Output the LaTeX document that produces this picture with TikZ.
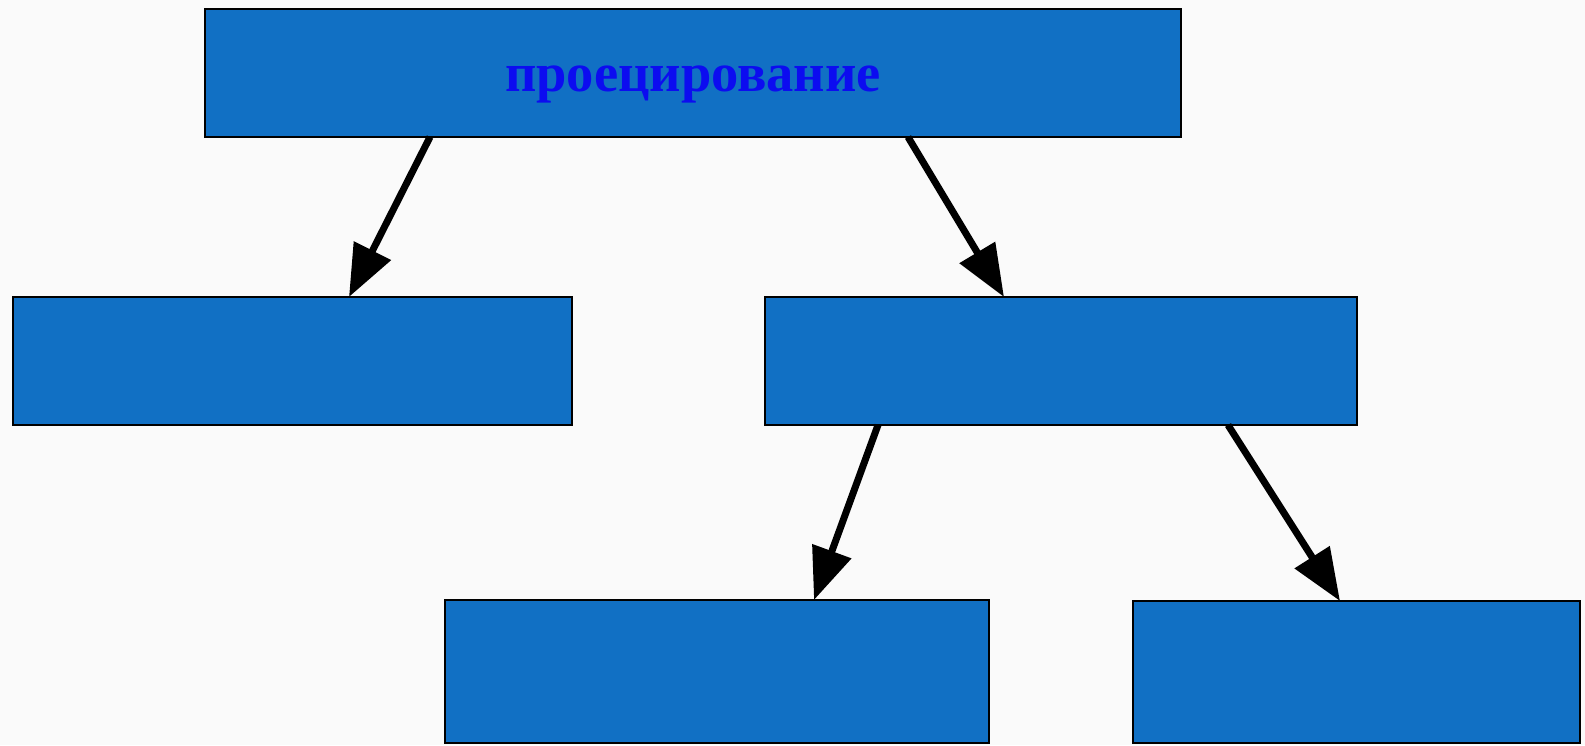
\documentclass[tikz,border=0pt]{standalone}
\usepackage{fontspec}
\setmainfont{Liberation Serif}
\usetikzlibrary{arrows.meta}
\definecolor{boxblue}{RGB}{17,112,196}
\definecolor{txtblue}{RGB}{12,12,240}
\definecolor{bgcol}{RGB}{250,250,250}
\tikzset{
  blk/.style={draw=black, line width=2pt, fill=boxblue, rectangle, inner sep=0pt, outer sep=0pt, anchor=north west},
  conn/.style={draw=black, line width=7pt, -{Triangle[length=52pt,width=40pt]}, shorten >=0pt}
}
\begin{document}
\begin{tikzpicture}[x=1pt,y=-1pt]
\fill[bgcol] (0,0) rectangle (1585,745);
\useasboundingbox (0,0) rectangle (1585,745);
\node[blk, minimum width=976pt, minimum height=128pt] (top) at (205,9) {};
\node[blk, minimum width=559pt, minimum height=128pt] (left) at (13,297) {};
\node[blk, minimum width=592pt, minimum height=128pt] (right) at (765,297) {};
\node[blk, minimum width=544pt, minimum height=143pt] (bl) at (445,600) {};
\node[blk, minimum width=447pt, minimum height=142pt] (br) at (1133,601) {};
\node[anchor=base, inner sep=0pt, text=txtblue, font=\fontsize{54.5}{64}\selectfont\bfseries] (title) at (693,91) {проецирование};
\draw[conn] ([xshift=225pt]top.south west) -- ([xshift=336pt]left.north west);
\draw[conn] ([xshift=703pt]top.south west) -- ([xshift=239pt]right.north west);
\draw[conn] ([xshift=113pt]right.south west) -- ([xshift=369pt]bl.north west);
\draw[conn] ([xshift=463pt]right.south west) -- ([xshift=207pt]br.north west);
\end{tikzpicture}
\end{document}
